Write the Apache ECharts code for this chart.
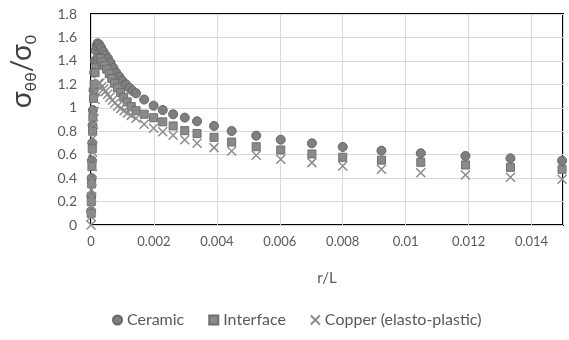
<!DOCTYPE html>
<html>
<head>
<meta charset="utf-8">
<script src="https://cdn.jsdelivr.net/npm/echarts@6/dist/echarts.min.js"></script>
<style>
html,body{margin:0;padding:0;background:#fff;}
#c{width:569px;height:340px;}
</style>
</head>
<body>
<div id="c"></div>
<script>
// r/L positions and sigma_theta_theta / sigma_0 values
const rCeramic = [0.000005,0.00001,0.00002,0.00003,0.00004,0.00005,0.00006,0.00008,0.0001,0.00012,0.00015,0.00018,0.00021,
  0.00026,0.00032,0.00039,0.00046,0.00054,0.00062,0.00071,0.0008,0.0009,0.001,0.00111,0.00122,0.00132,0.00143,
  0.00169,0.00199,0.00228,0.00261,0.00298,0.00337,0.00391,0.00447,0.00525,0.00603,0.00702,0.0080,0.00923,0.01048,0.0119,0.01333,0.01497];
const vCeramic = [0.12,0.25,0.40,0.55,0.70,0.85,0.98,1.15,1.30,1.40,1.49,1.53,1.55,
  1.54,1.515,1.48,1.45,1.42,1.385,1.34,1.30,1.265,1.23,1.20,1.17,1.145,1.124,
  1.07,1.018,0.981,0.945,0.916,0.885,0.845,0.802,0.762,0.728,0.697,0.666,0.634,0.612,0.589,0.569,0.549];

const rInterface = [0.000005,0.00001,0.00002,0.00003,0.00004,0.00005,0.00006,0.00008,0.0001,0.00013,0.00016,0.0002,0.00025,
  0.0003,0.00036,0.00043,0.0005,0.00058,0.00066,0.00075,0.00084,0.00094,0.00104,0.00115,0.00128,0.00143,
  0.00169,0.00199,0.00228,0.00261,0.00298,0.00337,0.00391,0.00447,0.00525,0.00603,0.00702,0.0080,0.00923,0.01048,0.0119,0.01333,0.01497];
const vInterface = [0.10,0.20,0.35,0.50,0.65,0.80,0.92,1.08,1.20,1.30,1.37,1.41,1.43,
  1.42,1.39,1.36,1.33,1.29,1.25,1.21,1.17,1.13,1.09,1.05,1.01,0.975,
  0.945,0.915,0.88,0.845,0.805,0.78,0.748,0.708,0.668,0.64,0.606,0.578,0.553,0.535,0.512,0.492,0.475];

const rCopper = [0,0.000005,0.00001,0.000015,0.00002,0.00003,0.00004,0.00005,0.00006,0.00008,0.0001,0.00013,0.00016,0.0002,0.00024,
  0.00028,0.00034,0.0004,0.00046,0.00053,0.0006,0.00068,0.00076,0.00085,0.00095,0.00105,0.00116,0.00128,0.00143,
  0.00169,0.00199,0.00228,0.00261,0.00298,0.00337,0.00391,0.00447,0.00525,0.00603,0.00702,0.0080,0.00923,0.01048,0.0119,0.01333,0.01497];
const vCopper = [0.0,0.07,0.16,0.24,0.30,0.38,0.50,0.62,0.74,0.86,0.97,1.07,1.14,1.19,1.21,
  1.21,1.18,1.16,1.14,1.115,1.09,1.065,1.04,1.015,0.995,0.975,0.955,0.935,0.91,
  0.86,0.825,0.796,0.765,0.728,0.697,0.66,0.631,0.595,0.561,0.532,0.503,0.475,0.446,0.427,0.407,0.39];

const xTicks = {min: 0, max: 0.015, interval: 0.002};
const yTicks = {min: 0, max: 1.8, interval: 0.2};
const seriesNames = ['Ceramic', 'Interface', 'Copper (elasto-plastic)'];

const zip = (xs, ys) => xs.map((x, i) => [x, ys[i]]);
const xPath = 'path://M0,0L10,10M10,0L0,10';
const FONT = 'Lato, "Liberation Sans", sans-serif';

const chart = echarts.init(document.getElementById('c'), null, {renderer: 'canvas'});
chart.setOption({
  animation: false,
  backgroundColor: '#fff',
  grid: {left: 90, right: 6, top: 14, bottom: 115, show: true, borderColor: '#000', borderWidth: 2, containLabel: false},
  legend: {
    left: 107, top: 307,
    itemWidth: 9, itemHeight: 9, itemGap: 24,
    textStyle: {fontFamily: FONT, fontSize: 16, color: '#595959'},
    data: [
      {name: seriesNames[0], icon: 'circle'},
      {name: seriesNames[1], icon: 'rect'},
      {name: seriesNames[2], icon: xPath}
    ]
  },
  xAxis: {
    type: 'value', min: xTicks.min, max: xTicks.max, interval: xTicks.interval,
    name: 'r/L', nameLocation: 'middle', nameGap: 46,
    nameTextStyle: {fontFamily: FONT, fontSize: 15, color: '#595959'},
    axisLine: {show: false}, axisTick: {show: false},
    axisLabel: {fontFamily: FONT, fontSize: 13, color: '#595959', margin: 10, showMaxLabel: false},
    splitLine: {show: true, lineStyle: {color: '#d9d9d9', width: 1}}
  },
  yAxis: {
    type: 'value', min: yTicks.min, max: yTicks.max, interval: yTicks.interval,
    name: '{s|σ}{sub|θθ}{s|/σ}{sub|0}', nameLocation: 'middle', nameGap: 52,
    nameTextStyle: {
      fontFamily: FONT, color: '#404040', padding: [0, 0, 0, 96],
      rich: {
        s: {fontFamily: FONT, fontSize: 28, color: '#404040', lineHeight: 34},
        sub: {fontFamily: FONT, fontSize: 16, color: '#404040', lineHeight: 16, verticalAlign: 'bottom'}
      }
    },
    axisLine: {show: false}, axisTick: {show: false},
    axisLabel: {fontFamily: FONT, fontSize: 14, color: '#595959', margin: 14},
    splitLine: {show: true, lineStyle: {color: '#d9d9d9', width: 1}}
  },
  series: [
    {name: seriesNames[0], type: 'scatter', symbol: 'circle', symbolSize: 9,
     itemStyle: {color: '#7f7f7f', borderColor: '#666', borderWidth: 1, opacity: 1},
     data: zip(rCeramic, vCeramic)},
    {name: seriesNames[1], type: 'scatter', symbol: 'rect', symbolSize: 8,
     itemStyle: {color: '#8a8a8a', borderColor: '#6e6e6e', borderWidth: 1, opacity: 1},
     data: zip(rInterface, vInterface)},
    {name: seriesNames[2], type: 'scatter', symbol: xPath, symbolSize: 9,
     itemStyle: {color: '#8c8c8c', borderColor: '#8c8c8c', borderWidth: 1.5, opacity: 1},
     data: zip(rCopper, vCopper)}
  ]
});
</script>
</body>
</html>
